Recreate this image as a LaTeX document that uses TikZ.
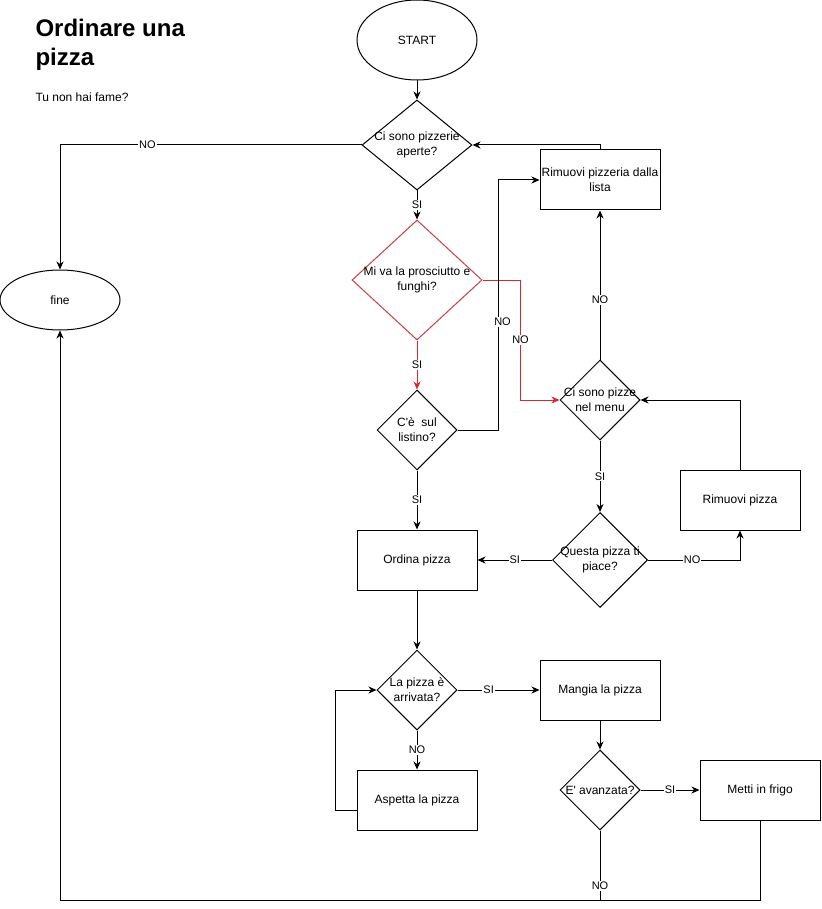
\documentclass[tikz,border=0pt]{standalone}
\usepackage{fontspec}
\setmainfont{Liberation Sans}
\usetikzlibrary{shapes.geometric, arrows.meta}

\definecolor{redline}{RGB}{220,38,48}
\definecolor{redshape}{RGB}{200,60,70}

\tikzset{
    every node/.style={font=\fontsize{12}{15}\selectfont},
    box/.style={draw, rectangle, minimum width=120pt, minimum height=60pt, inner sep=0pt, align=center},
    decision/.style={draw, diamond, inner sep=0pt},
    terminal/.style={draw, ellipse, minimum width=120pt, inner sep=0pt},
    arr/.style={-{Stealth[length=8pt, width=7pt, inset=2.5pt]}},
    lbl/.style={fill=white, inner sep=1pt, font=\fontsize{11}{13}\selectfont},
}

\begin{document}
\begin{tikzpicture}[x=1pt, y=-1pt, line width=1pt]

    \useasboundingbox (0,0) rectangle (821,909);

    %% Title
    \node[anchor=north west, inner sep=0pt, align=left, font=\fontsize{24}{29}\selectfont\bfseries] (title) at (35,19) {Ordinare una\\pizza};
    \node[anchor=base west, inner sep=0pt] (sub) at (35,102) {Tu non hai fame?};

    %% Nodes
    % Start and end
    \node[terminal, minimum height=80pt] (start) at (417,40) {START};
    \node[terminal, minimum height=60pt] (fine) at (60,300) {fine};

    % Questions
    \node[decision, minimum width=110pt, minimum height=90pt, label={[align=center]center:Ci sono pizzerie\\aperte?}] (d1) at (417,145) {};
    \node[decision, draw=redshape, minimum width=130pt, minimum height=120pt, label={[align=center]center:Mi va la prosciutto e\\funghi?}] (d2) at (417,280) {};
    \node[decision, minimum width=80pt, minimum height=80pt, label={[align=center]center:C\textquotesingle è\ \ sul\\listino?}] (d3) at (417,430) {};
    \node[decision, minimum width=80pt, minimum height=80pt, label={[align=center]center:Ci sono pizze\\nel menu}] (d4) at (600,400) {};
    \node[decision, minimum width=95pt, minimum height=95pt, label={[align=center]center:Questa pizza ti\\piace?}] (d5) at (600,560) {};
    \node[decision, minimum width=80pt, minimum height=80pt, label={[align=center]center:La pizza è\\arrivata?}] (d6) at (417,690) {};
    \node[decision, minimum width=80pt, minimum height=80pt, label={center:E\textquotesingle{} avanzata?}] (d7) at (600,790) {};

    % Actions
    \node[box] (rp) at (600,180) {Rimuovi pizzeria dalla\\lista};
    \node[box] (rpz) at (740,500) {Rimuovi pizza};
    \node[box] (op) at (417,560) {Ordina pizza};
    \node[box] (mp) at (600,690) {Mangia la pizza};
    \node[box] (ap) at (417,800) {Aspetta la pizza};
    \node[box] (mf) at (760,790) {Metti in frigo};

    %% Connectors
    \draw[arr] (start.south) -- (d1.north);
    \draw[arr] (d1.west) -| (fine.north) node[lbl, pos=0.355] {NO};
    \draw[arr] (d1.south) -- (d2.north) node[lbl, midway] {SI};
    \draw[arr, redline] (d2.south) -- (d3.north) node[lbl, midway, text=black] {SI};
    \draw[arr, redline] (d2.east) -- ++(38,0) |- (d4.west) node[lbl, pos=0.25, text=black] {NO};
    \draw[arr] (d3.east) -- ++(41,0) |- (rp.west) node[lbl, pos=0.216, xshift=4pt] {NO};
    \draw[arr] (rp.north) |- (d1.east);
    \draw[arr] (d4.north) -- (rp.south) node[lbl, pos=0.4] {NO};
    \draw[arr] (d4.south) -- (d5.north) node[lbl, midway] {SI};
    \draw[arr] (d5.east) -| (rpz.south) node[lbl, pos=0.24] {NO};
    \draw[arr] (rpz.north) |- (d4.east);
    \draw[arr] (d5.west) -- (op.east) node[lbl, midway] {SI};
    \draw[arr] (d3.south) -- (op.north) node[lbl, midway] {SI};
    \draw[arr] (op.south) -- (d6.north);
    \draw[arr] (d6.east) -- (mp.west) node[lbl, pos=0.38] {SI};
    \draw[arr] (d6.south) -- (ap.north) node[lbl, midway] {NO};
    \draw[arr] ([yshift=-10pt]ap.west) -- ++(-21,0) |- (d6.west);
    \draw[arr] (mp.south) -- (d7.north);
    \draw[arr] (d7.east) -- (mf.west) node[lbl, midway] {SI};
    \draw[arr] (mf.south) -- ++(0,80) -| (fine.south);
    \draw (d7.south) -- ++(0,70) node[lbl, pos=0.79] {NO};

\end{tikzpicture}
\end{document}
